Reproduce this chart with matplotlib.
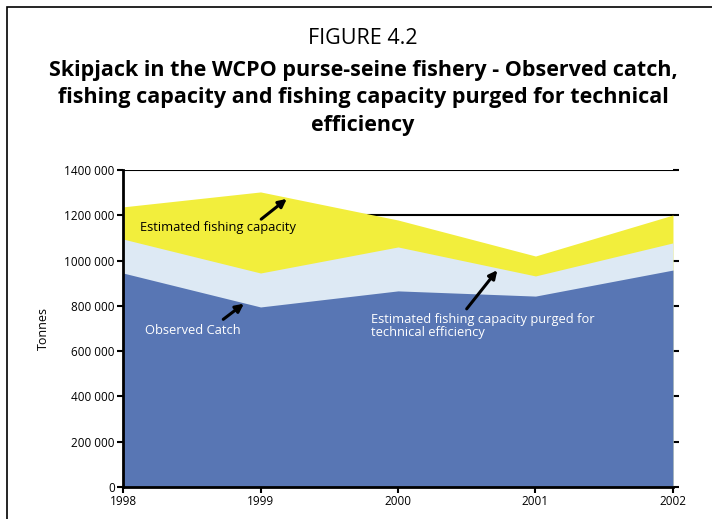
import numpy as np
import matplotlib.pyplot as plt
from matplotlib.patches import Rectangle
from matplotlib.ticker import FuncFormatter

years = [1998, 1999, 2000, 2001, 2002]
capacity = [1237000, 1303000, 1179000, 1020000, 1201000]
capacity_purged = [1095000, 945000, 1060000, 932000, 1078000]
observed_catch = [945000, 795000, 866000, 843000, 958000]

yticks = [0, 200000, 400000, 600000, 800000, 1000000, 1200000, 1400000]

plt.rcParams['font.family'] = ['Open Sans', 'DejaVu Sans']


def tonnes(v, pos):
    v = int(v)
    if v == 0:
        return '0'
    return f'{v // 1000} {v % 1000:03d}'


fig = plt.figure(figsize=(7.12, 5.19), dpi=100)
ax = fig.add_axes([0.1728, 0.0617, 0.7724, 0.6108])

# stacked look: each series filled from zero, largest first
ax.fill_between(years, 0, capacity, color='#F2EE3C', lw=0, zorder=2)
ax.fill_between(years, 0, capacity_purged, color='#DDE9F4', lw=0, zorder=3)
ax.fill_between(years, 0, observed_catch, color='#5876B4', lw=0, zorder=4)

for t in yticks[1:]:
    ax.axhline(t, color='black', lw=1.5, zorder=1)

ax.set_xlim(1998, 2002)
ax.set_ylim(0, 1400000)
ax.set_xticks(years)
ax.set_yticks(yticks)
ax.yaxis.set_major_formatter(FuncFormatter(tonnes))
ax.tick_params(axis='both', labelsize=8.5, length=4, width=1.5, pad=2)
ax.tick_params(axis='y', right=True, which='both')
for s in ['top', 'right']:
    ax.spines[s].set_visible(False)
for s in ['left', 'bottom']:
    ax.spines[s].set_linewidth(2)
    ax.spines[s].set_zorder(6)
ax.set_ylabel('Tonnes', fontsize=9, labelpad=10)

arrow = dict(arrowstyle='-|>', color='black', lw=2.2, mutation_scale=12)
ax.annotate('', xy=(1999.207, 1280000), xytext=(1998.989, 1175000),
            arrowprops=arrow, zorder=7)
ax.annotate('', xy=(1998.895, 817000), xytext=(1998.713, 733000),
            arrowprops=arrow, zorder=7)
ax.annotate('', xy=(2000.735, 967000), xytext=(2000.487, 777000),
            arrowprops=arrow, zorder=7)

ax.text(1998.124, 1144000, 'Estimated fishing capacity', fontsize=9.3,
        color='black', va='center', ha='left', zorder=8)
ax.text(1998.16, 693000, 'Observed Catch', fontsize=9.3,
        color='white', va='center', ha='left', zorder=8)
ax.text(1999.804, 711000, 'Estimated fishing capacity purged for\ntechnical efficiency',
        fontsize=9.3, color='white', va='center', ha='left', linespacing=0.95, zorder=8)

fig.text(0.51, 1 - 38 / 519, 'FIGURE 4.2', fontsize=15.5, ha='center', va='center')
fig.text(0.51, 1 - 98 / 519,
         'Skipjack in the WCPO purse-seine fishery - Observed catch,\n'
         'fishing capacity and fishing capacity purged for technical\nefficiency',
         fontsize=15.5, fontweight='bold', ha='center', va='center', linespacing=1.42)

# page frame
fig.add_artist(Rectangle((7 / 712, -0.1), 1.1, 1.1 - 7 / 519,
                         transform=fig.transFigure, fill=False, lw=1.2, ec='black'))

fig.savefig('out.png', dpi=100)
